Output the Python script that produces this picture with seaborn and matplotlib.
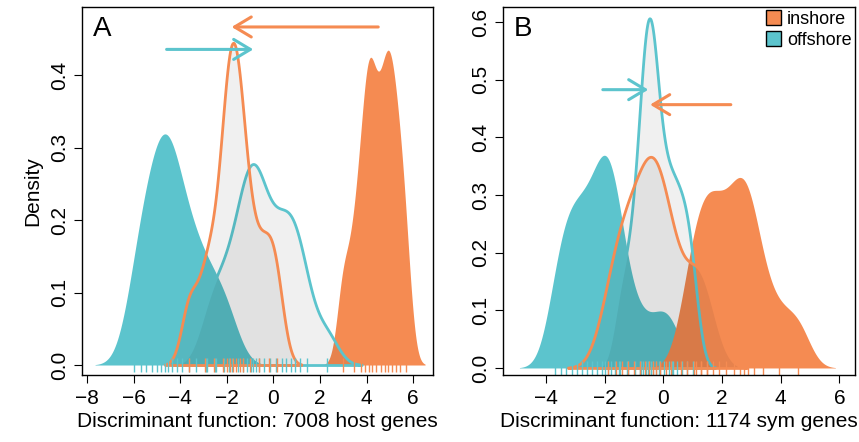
import numpy as np
import matplotlib
matplotlib.use("Agg")
import matplotlib.pyplot as plt
import seaborn as sns
from matplotlib.patches import Patch

# discriminant scores per sample, read off the rug marks / curve shapes
# panel A: 7008 host genes
a_off_native = [-6.0, -5.7, -5.45, -5.2, -5.0, -4.8, -4.65, -4.5, -4.35,
                -4.15, -3.9, -3.6, -3.3, -2.9, -2.45, -1.9]
a_in_native = [3.0, 3.45, 3.75, 3.95, 4.1, 4.22, 4.4, 4.62, 4.8, 4.93,
               5.08, 5.25, 5.45, 5.7]
a_in_moved = [-3.6, -2.95, -2.55, -2.15, -2.0, -1.87, -1.74, -1.6, -1.45,
              -1.3, -1.0, -0.6, -0.2, 0.15]
a_off_moved = [-2.85, -2.5, -2.1, -1.77, -1.5, -1.3, -1.12, -0.98, -0.86,
               -0.74, -0.6, -0.4, -0.15, 0.1, 0.35, 0.55, 0.75, 0.95, 1.15,
               1.45, 2.29]

# panel B: 1174 sym genes
b_off_native = [-3.7, -3.5, -3.3, -3.12, -2.95, -2.78, -2.6, -2.42, -2.25,
                -2.1, -1.98, -1.88, -1.78, -1.65, -1.48, -1.25, -0.75, -0.15,
                0.3]
b_in_native = [0.8, 1.1, 1.3, 1.5, 1.7, 1.9, 2.15, 2.4, 2.6, 2.75, 2.9,
               3.1, 3.4, 3.95, 4.6]
b_in_moved = [-1.9, -1.6, -1.4, -1.2, -1.0, -0.8, -0.62, -0.48, -0.36,
              -0.24, -0.1, 0.08, 0.25, 0.6, 1.05, 1.3, 1.5]
b_off_moved = [-1.5, -1.2, -0.95, -0.8, -0.68, -0.6, -0.53, -0.47, -0.41,
               -0.34, -0.25, -0.12, 0.02, 0.18, 0.32, 0.48, 0.65, 0.82, 1.02]

# arrows: native mode -> transplanted mode (x start, x end, height)
a_arrow_in = [4.5, -1.79, 0.467]
a_arrow_off = [-4.58, -0.86, 0.436]
b_arrow_in = [2.3, -0.45, 0.457]
b_arrow_off = [-2.06, -0.51, 0.483]

TEAL = "#5CC4CD"
ORANGE = "#F58B52"
SHADE = (0, 0, 0, 0.06)

plt.rcParams['font.family'] = ['Liberation Sans', 'DejaVu Sans']

fig = plt.figure(figsize=(8.59, 4.42), dpi=100)
ax_a = fig.add_axes([82 / 859, 67 / 442, 351 / 859, 368.3 / 442])
ax_b = fig.add_axes([503 / 859, 67 / 442, 352 / 859, 368.3 / 442])


def bw(x, h):
    # kde factor giving a kernel sd of h
    return h / np.std(x, ddof=1)


def draw_panel(ax, off_nat, in_nat, in_mov, off_mov, hs, rug_y):
    sns.kdeplot(x=off_nat, ax=ax, fill=True, color=TEAL, alpha=1,
                linewidth=0, bw_method=bw(off_nat, hs[0]))
    sns.kdeplot(x=in_nat, ax=ax, fill=True, color=ORANGE, alpha=1,
                linewidth=0, bw_method=bw(in_nat, hs[1]))
    # rugs
    ax.vlines(off_nat + off_mov, rug_y[0], rug_y[1], color=TEAL, lw=1)
    ax.vlines(in_nat + in_mov, rug_y[0], rug_y[1], color=ORANGE, lw=1)
    # transplanted: shaded outline
    sns.kdeplot(x=off_mov, ax=ax, fill=True, facecolor=SHADE, edgecolor=TEAL,
                linewidth=2, bw_method=bw(off_mov, hs[3]))
    sns.kdeplot(x=in_mov, ax=ax, fill=True, facecolor=SHADE, edgecolor=ORANGE,
                linewidth=2, bw_method=bw(in_mov, hs[2]))


def arrow(ax, a, color):
    ax.annotate("", xy=(a[1], a[2]), xytext=(a[0], a[2]),
                arrowprops=dict(arrowstyle="->,head_length=0.75,head_width=0.45",
                                color=color, lw=2.2, mutation_scale=16,
                                shrinkA=0, shrinkB=0))


draw_panel(ax_a, a_off_native, a_in_native, a_in_moved, a_off_moved,
           [0.55, 0.27, 0.35, 0.5], [-0.009, 0.009])
draw_panel(ax_b, b_off_native, b_in_native, b_in_moved, b_off_moved,
           [0.4, 0.42, 0.45, 0.25], [-0.012, 0.012])

arrow(ax_a, a_arrow_in, ORANGE)
arrow(ax_a, a_arrow_off, TEAL)
arrow(ax_b, b_arrow_off, TEAL)
arrow(ax_b, b_arrow_in, ORANGE)

ax_a.set_xlim(-8.21, 6.85)
ax_a.set_ylim(-0.0138, 0.495)
ax_a.set_xticks(np.arange(-8, 7, 2))
ax_a.set_yticks(np.arange(0, 0.41, 0.1))
ax_a.set_ylabel("Density", fontsize=15, labelpad=6)
ax_a.set_xlabel("Discriminant function: 7008 host genes", fontsize=15,
                labelpad=3)

ax_b.set_xlim(-5.46, 6.53)
ax_b.set_ylim(-0.0122, 0.627)
ax_b.set_xticks(np.arange(-4, 7, 2))
ax_b.set_yticks(np.arange(0, 0.61, 0.1))
ax_b.set_ylabel("")
ax_b.set_xlabel("Discriminant function: 1174 sym genes", fontsize=15,
                labelpad=3)

for ax, tag in [(ax_a, "A"), (ax_b, "B")]:
    ax.set_yticklabels([f"{v:.1f}" for v in ax.get_yticks()], rotation=90,
                       va="center")
    ax.tick_params(direction="out", length=6, width=0.8, labelsize=15)
    ax.tick_params(axis="x", pad=4)
    ax.tick_params(axis="y", pad=3)
    for s in ax.spines.values():
        s.set_linewidth(1)
        s.set_color("black")
    ax.text(0.03, 0.975, tag, transform=ax.transAxes, fontsize=20,
            va="top", ha="left")

ax_b.legend(handles=[Patch(facecolor=ORANGE, edgecolor="black", label="inshore"),
                     Patch(facecolor=TEAL, edgecolor="black", label="offshore")],
            loc="upper right", frameon=False, fontsize=13, handlelength=0.85,
            handleheight=0.85, handletextpad=0.3, labelspacing=0.2,
            borderaxespad=0.1, borderpad=0.1)

fig.savefig("out.png", dpi=100)
